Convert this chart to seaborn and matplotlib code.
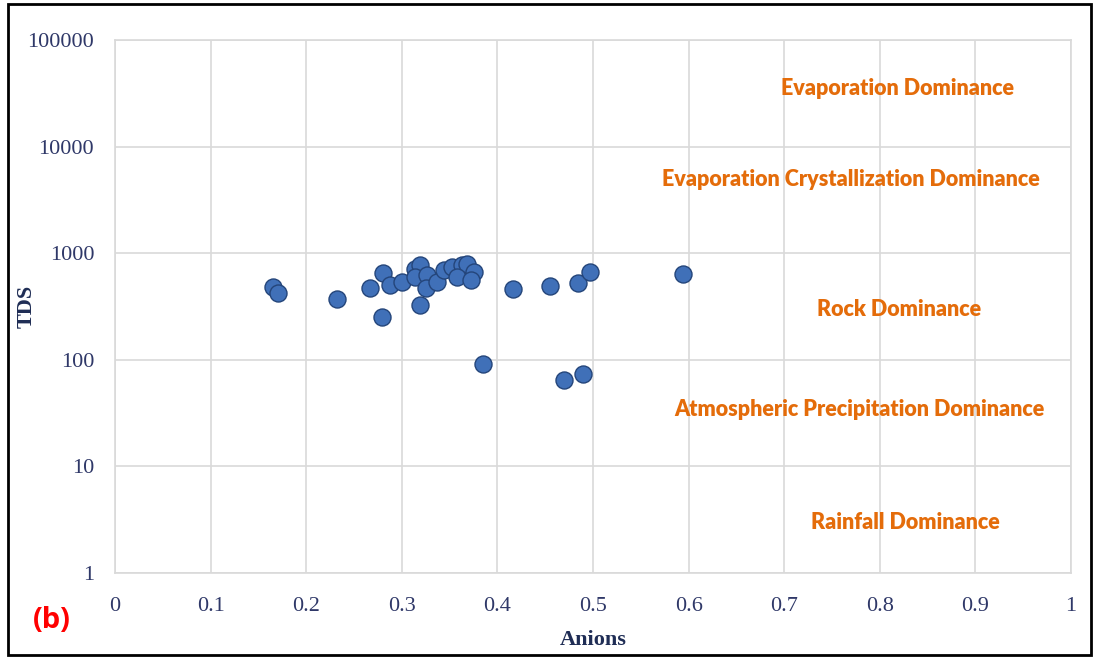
import matplotlib
matplotlib.use("Agg")
import matplotlib.pyplot as plt
import matplotlib.ticker as mticker
from matplotlib.patches import Rectangle
import seaborn as sns
import pandas as pd

# ---- data ----
anions = [0.165, 0.171, 0.232, 0.267, 0.280, 0.279, 0.288, 0.300, 0.314, 0.319,
          0.314, 0.326, 0.325, 0.337, 0.344, 0.353, 0.363, 0.368, 0.375, 0.358,
          0.372, 0.319, 0.416, 0.455, 0.484, 0.497, 0.594, 0.385, 0.470, 0.490]
tds = [480, 422, 368, 472, 646, 252, 500, 538, 718, 771,
       600, 622, 467, 538, 693, 743, 771, 790, 668, 600,
       558, 325, 457, 490, 526, 663, 636, 91, 65, 74]

x_ticks = [0, 0.1, 0.2, 0.3, 0.4, 0.5, 0.6, 0.7, 0.8, 0.9, 1]
x_tick_labels = ["0", "0.1", "0.2", "0.3", "0.4", "0.5", "0.6", "0.7", "0.8", "0.9", "1"]
y_ticks = [1, 10, 100, 1000, 10000, 100000]
y_tick_labels = ["1", "10", "100", "1000", "10000", "100000"]

zone_labels = ["Evaporation Dominance",
               "Evaporation Crystallization Dominance",
               "Rock Dominance",
               "Atmospheric Precipitation Dominance",
               "Rainfall Dominance"]

df = pd.DataFrame({"Anions": anions, "TDS": tds})

sns.set_theme(style="white")
plt.rcParams["font.family"] = ["Liberation Serif", "DejaVu Sans"]

fig = plt.figure(figsize=(10.95, 6.59), dpi=100)
ax = fig.add_axes([115 / 1095, 1 - 573 / 659, (1071 - 115) / 1095, (573 - 40) / 659])

sns.scatterplot(data=df, x="Anions", y="TDS", ax=ax, s=150, color="#4070B8",
                edgecolor="#24457A", linewidth=1.0, zorder=3)

ax.set_yscale("log")
ax.set_xlim(0, 1)
ax.set_ylim(1, 100000)
ax.xaxis.set_major_locator(mticker.FixedLocator(x_ticks))
ax.xaxis.set_major_formatter(mticker.FixedFormatter(x_tick_labels))
ax.yaxis.set_major_locator(mticker.FixedLocator(y_ticks))
ax.yaxis.set_major_formatter(mticker.FixedFormatter(y_tick_labels))
ax.yaxis.set_minor_locator(mticker.NullLocator())

ax.grid(True, which="major", color="#D9D9D9", linewidth=1.2)
ax.set_axisbelow(True)
for sp in ax.spines.values():
    sp.set_color("#D9D9D9")
    sp.set_linewidth(1.2)

ax.tick_params(axis="both", length=0, labelsize=16, colors="#2F3868")
ax.tick_params(axis="x", pad=17)
ax.tick_params(axis="y", pad=15)

ax.set_xlabel("Anions", fontsize=16, fontweight="bold", color="#1F2D55")
ax.xaxis.set_label_coords(0.5, -(640 - 573) / 533, transform=ax.transAxes)
ax.xaxis.label.set_va("center")
ax.set_ylabel("TDS", fontsize=16, fontweight="bold", color="#1F2D55")
ax.yaxis.set_label_coords(-(115 - 27) / 956, 0.5, transform=ax.transAxes)
ax.yaxis.label.set_va("center")

zone_pos = [(0.819, 0.909), (0.770, 0.738), (0.820, 0.495), (0.779, 0.307), (0.827, 0.094)]
for lab, (px, py) in zip(zone_labels, zone_pos):
    ax.text(px, py, lab, transform=ax.transAxes, ha="center", va="center",
            fontsize=15.5, fontweight="heavy", color="#E46C0A", family=["Lato", "DejaVu Sans"])

fig.text(52 / 1095, 1 - 620 / 659, "(b)", ha="center", va="center", fontsize=21,
         fontweight="bold", color="#FF0000", family=["Open Sans", "DejaVu Sans"])

fig.patches.append(Rectangle((8 / 1095, 4 / 659), (1091 - 8) / 1095, (655 - 4) / 659,
                             transform=fig.transFigure, fill=False, edgecolor="black",
                             linewidth=2))

fig.savefig("out.png", dpi=100)
